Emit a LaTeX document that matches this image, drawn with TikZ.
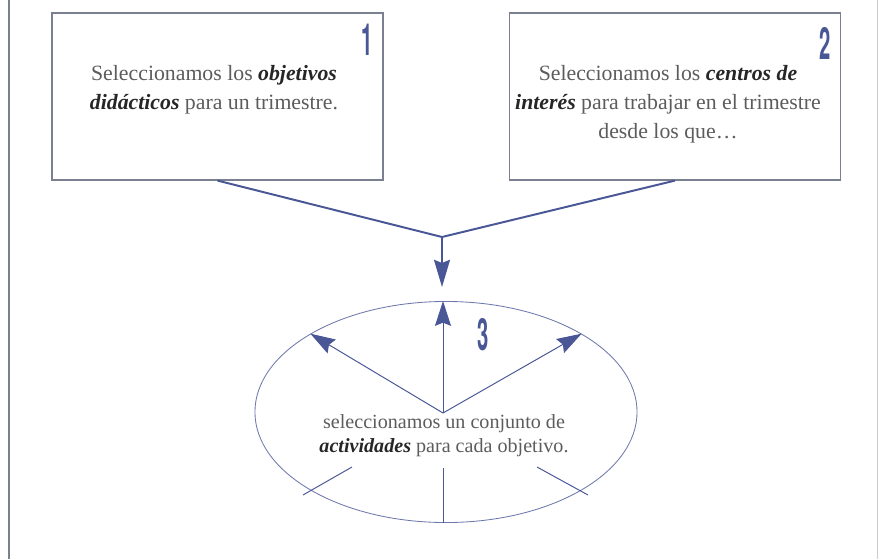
\documentclass[tikz,border=0pt]{standalone}
\usepackage{fontspec}
\setmainfont{Liberation Serif}
\newfontfamily\numfont{TeX Gyre Heros}
\usepackage{graphicx}
\usetikzlibrary{arrows.meta,shapes.geometric}
\definecolor{myblue}{rgb}{0.29,0.34,0.59}
\definecolor{mygray}{rgb}{0.48,0.50,0.56}
\definecolor{mytext}{gray}{0.36}
\newcommand{\destaca}[1]{\textcolor{black!85}{\textbf{\textit{#1}}}}
\newcommand{\numero}[1]{\scalebox{0.48}[1.05]{\numfont\bfseries\fontsize{30}{30}\selectfont #1}}
\begin{document}
\begin{tikzpicture}[x=0.025cm,y=-0.025cm,
every node/.style={mytext},
caja/.style={draw=mygray,line width=0.8pt,minimum width=8.275cm,minimum height=4.175cm,inner sep=0pt},
texto/.style={align=center,font=\fontsize{15.5}{20.6}\selectfont},
num/.style={myblue,inner sep=0pt},
conector/.style={myblue,line width=1.4pt},
flecha/.style={myblue,line width=0.7pt,-{Stealth[length=0.62cm,width=0.4cm,inset=0.08cm]}}]
\useasboundingbox (0,0) rectangle (880,559);
\draw[mygray,line width=0.8pt] (9,0) -- (9,559);
\draw[mygray!40,line width=0.6pt] (877,0) -- (877,559);
\node[caja] (obj) at (217.5,96.5) {};
\node[caja] (int) at (675,96.5) {};
\node[texto] (objtxt) at (214,89.5) {Seleccionamos los \destaca{objetivos}\\ \destaca{didácticos} para un trimestre.};
\node[texto] (inttxt) at (668,104) {Seleccionamos los \destaca{centros de}\\ \destaca{interés} para trabajar en el trimestre\\ desde los que\dots};
\node[num] (n1) at (367,40) {\numero{1}};
\node[num] (n2) at (825,43) {\numero{2}};
\node[ellipse,draw=myblue!80,line width=0.6pt,minimum width=9.55cm,minimum height=5.525cm,inner sep=0pt] (act) at (446,412) {};
\node[num] (n3) at (483,335) {\numero{3}};
\node[texto,font=\fontsize{14.3}{17}\selectfont] (acttxt) at (444,436) {seleccionamos un conjunto de\\ \destaca{actividades} para cada objetivo.};
\coordinate (jn) at (442,237);
\coordinate (tip) at (442,287);
\coordinate (o) at (443,413);
\draw[conector] (obj.south) -- (jn) -- (int.south);
\draw[conector,-{Stealth[length=0.68cm,width=0.4cm,inset=0.08cm]}] (jn) -- (tip);
\draw[flecha] (o) -- (o |- act.north);
\draw[flecha] (o) -- (act.150);
\draw[flecha] (o) -- (act.30);
\draw[myblue,line width=0.7pt] (352,467) -- (303,495);
\draw[myblue,line width=0.7pt] (o |- acttxt.south) ++(0,6) -- (o |- act.south);
\draw[myblue,line width=0.7pt] (537,467) -- (588,495);
\end{tikzpicture}
\end{document}
